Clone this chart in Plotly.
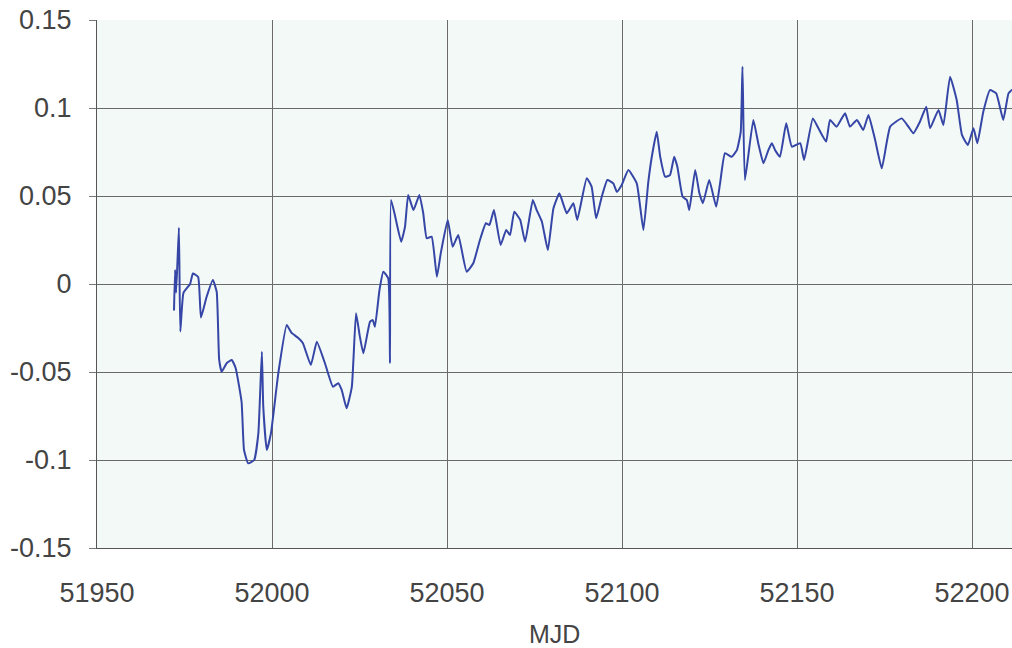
import plotly.graph_objects as go

mjd = [51972.0, 51972.3, 51972.6, 51973.4, 51973.8, 51974.7, 51976.6, 51977.4, 51978.9, 51979.7,
       51981.3, 51983.1, 51984.2, 51984.9, 51985.6, 51987.1, 51988.5, 51989.6, 51991.3, 51992.0,
       51993.2, 51994.9, 51996.1, 51997.1, 51997.5, 51998.5, 51999.7, 52001.8, 52004.2, 52005.6,
       52007.5, 52008.8, 52011.1, 52012.8, 52015.1, 52017.4, 52018.9, 52019.9, 52021.3, 52022.8,
       52024.0, 52025.1, 52026.1, 52028.0, 52028.8, 52029.4, 52030.7, 52031.8, 52033.2, 52033.7,
       52034.0, 52035.1, 52036.9, 52038.0, 52038.9, 52040.4, 52042.1, 52043.2, 52044.2, 52045.6,
       52047.1, 52048.2, 52050.2, 52051.6, 52053.2, 52055.6, 52057.5, 52059.4, 52061.1, 52062.1,
       52063.4, 52065.3, 52066.9, 52068.0, 52069.2, 52070.9, 52072.3, 52074.5, 52075.6, 52077.1,
       52078.8, 52080.4, 52082.1, 52084.2, 52086.1, 52087.2, 52089.9, 52091.3, 52092.6, 52094.2,
       52095.8, 52097.5, 52098.5, 52099.9, 52101.8, 52104.2, 52106.1, 52107.5, 52108.5, 52109.9,
       52110.9, 52112.3, 52113.7, 52114.9, 52115.8, 52117.3, 52118.5, 52119.2, 52120.9, 52122.1,
       52123.1, 52124.9, 52126.9, 52128.0, 52129.4, 52131.3, 52132.8, 52133.9, 52134.4, 52135.1,
       52137.5, 52138.9, 52140.4, 52141.8, 52142.8, 52143.7, 52145.1, 52146.9, 52148.5, 52150.9,
       52152.0, 52154.5, 52156.1, 52158.3, 52159.4, 52161.3, 52163.7, 52165.1, 52167.1, 52168.9,
       52170.4, 52172.3, 52174.2, 52176.6, 52179.9, 52181.8, 52183.2, 52185.1, 52186.9, 52188.0,
       52190.4, 52191.8, 52193.7, 52195.6, 52197.1, 52198.8, 52200.4, 52201.5, 52203.2, 52205.1,
       52206.9, 52208.9, 52210.4, 52211.4, 52213.0]

offset = [-0.015, 0.008, -0.005, 0.032, -0.027, -0.005, 0.0, 0.006, 0.004, -0.019,
          -0.0074, 0.0023, -0.0045, -0.043, -0.0498, -0.0449, -0.0432, -0.0477, -0.0669, -0.0943,
          -0.1019, -0.1, -0.0847, -0.0385, -0.0697, -0.0943, -0.0847, -0.0506, -0.0233, -0.0278,
          -0.0307, -0.0335, -0.046, -0.0328, -0.0449, -0.0584, -0.0564, -0.0602, -0.0706, -0.0584,
          -0.0166, -0.0299, -0.0394, -0.0214, -0.0205, -0.0243, -0.0034, 0.007, 0.0032, -0.045,
          0.0477, 0.0392, 0.024, 0.0326, 0.0506, 0.042, 0.0506, 0.0402, 0.026, 0.0269,
          0.0041, 0.0174, 0.0364, 0.0212, 0.0278, 0.007, 0.0118, 0.025, 0.0345, 0.0335,
          0.042, 0.0222, 0.0307, 0.0278, 0.0411, 0.0364, 0.024, 0.0477, 0.042, 0.0354,
          0.0193, 0.043, 0.0515, 0.0402, 0.0459, 0.0364, 0.0601, 0.0553, 0.0373, 0.0496,
          0.0591, 0.0572, 0.0524, 0.0563, 0.0648, 0.0572, 0.0307, 0.058, 0.0723, 0.0865,
          0.0723, 0.061, 0.0619, 0.0723, 0.0666, 0.0496, 0.0477, 0.042, 0.0648, 0.0515,
          0.0459, 0.0591, 0.0439, 0.0572, 0.0743, 0.0723, 0.0761, 0.0865, 0.1235, 0.0591,
          0.0932, 0.08, 0.0686, 0.0761, 0.08, 0.0761, 0.0723, 0.0913, 0.078, 0.08,
          0.0705, 0.0941, 0.0885, 0.0809, 0.0932, 0.0894, 0.097, 0.0894, 0.0932, 0.0875,
          0.096, 0.0818, 0.0657, 0.0894, 0.0941, 0.0894, 0.0856, 0.0922, 0.1007, 0.0885,
          0.0989, 0.0903, 0.1178, 0.1045, 0.0847, 0.079, 0.0885, 0.08, 0.0979, 0.1102,
          0.1083, 0.0932, 0.1083, 0.1102, 0.108]

x_ticks = [51950, 52000, 52050, 52100, 52150, 52200]
y_ticks = [-0.15, -0.1, -0.05, 0, 0.05, 0.1, 0.15]
y_labels = ["-0.15", "-0.1", "-0.05", "0", "0.05", "0.1", "0.15"]

fig = go.Figure()
fig.add_trace(go.Scatter(x=mjd, y=offset, mode="lines",
                         line=dict(color="#3646a6", width=2, shape="spline", smoothing=0.4),
                         showlegend=False))

font = dict(family="Liberation Sans, Arial, sans-serif", size=27, color="#444444")

fig.update_layout(
    width=1012, height=648,
    margin=dict(l=97, r=0, t=20, b=100),
    paper_bgcolor="white",
    plot_bgcolor="#f2f9f7",
    font=font,
    xaxis=dict(range=[51950, 52211.4], tickvals=x_ticks, ticktext=[str(v) for v in x_ticks],
               showgrid=True, gridcolor="#6a6a6a", gridwidth=1,
               showline=True, linecolor="#555555", linewidth=1,
               ticks="", ticklabelstandoff=21, automargin=False,
               zeroline=False),
    yaxis=dict(range=[-0.15, 0.15], tickvals=y_ticks, ticktext=y_labels,
               showgrid=True, gridcolor="#6a6a6a", gridwidth=1,
               showline=True, linecolor="#555555", linewidth=1,
               ticks="outside", ticklen=7, tickcolor="#777777",
               ticklabelstandoff=12, automargin=False, zeroline=False),
    annotations=[dict(text="MJD", xref="paper", yref="paper", x=0.5, y=-0.162,
                      xanchor="center", yanchor="middle", showarrow=False,
                      font=dict(size=25, color="#444444"))],
)

fig.write_html("out.html", config={"displayModeBar": False},
               post_script="document.body.style.margin='0px';document.body.style.overflow='hidden';")
